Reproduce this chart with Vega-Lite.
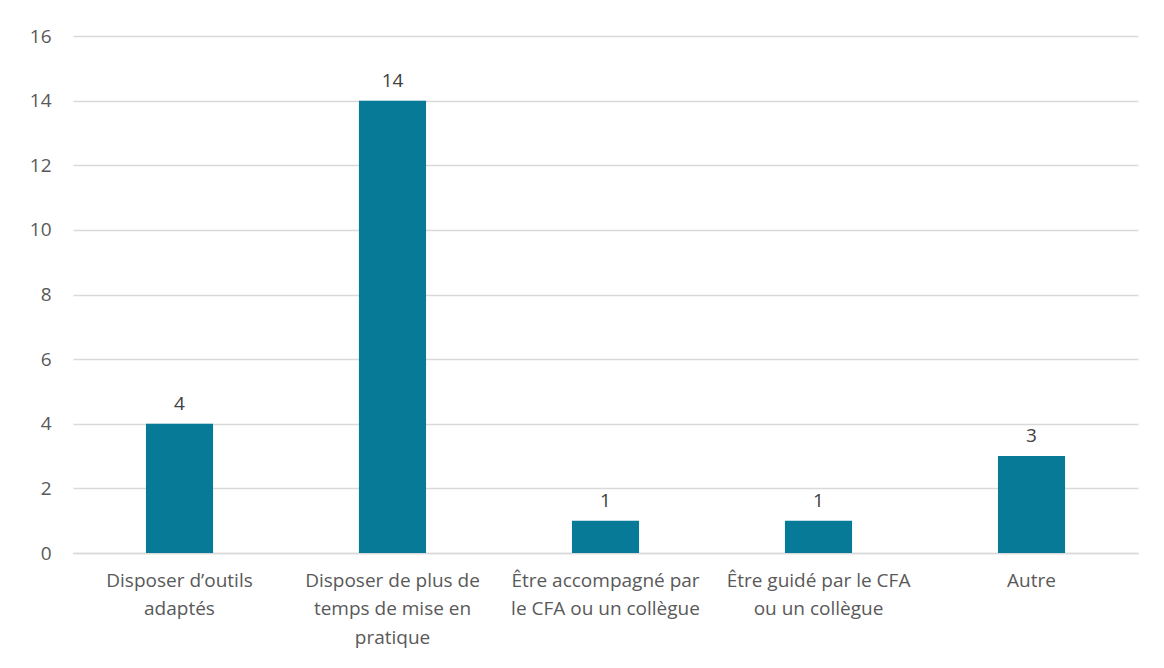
{
  "$schema": "https://vega.github.io/schema/vega-lite/v6.json",
  "width": 1065,
  "height": 517,
  "autosize": {"type": "none"},
  "padding": {"left": 73, "top": 36, "right": 26, "bottom": 115},
  "background": "white",
  "data": {
    "values": [
      {"categorie": "Disposer d’outils|adaptés", "valeur": 4},
      {"categorie": "Disposer de plus de|temps de mise en|pratique", "valeur": 14},
      {"categorie": "Être accompagné par|le CFA ou un collègue", "valeur": 1},
      {"categorie": "Être guidé par le CFA|ou un collègue", "valeur": 1},
      {"categorie": "Autre", "valeur": 3}
    ]
  },
  "config": {
    "view": {"stroke": null},
    "font": "Open Sans",
    "axis": {"labelFont": "Open Sans", "labelColor": "#595959", "labelFontSize": 19}
  },
  "encoding": {
    "x": {
      "field": "categorie",
      "type": "nominal",
      "sort": null,
      "scale": {"paddingInner": 0.685, "paddingOuter": 0.3425},
      "axis": {
        "title": null,
        "labelAngle": 0,
        "labelExpr": "split(datum.label, '|')",
        "labelLineHeight": 28.5,
        "labelPadding": 18,
        "ticks": false,
        "domain": true,
        "domainColor": "#D9D9D9",
        "domainWidth": 1.5,
        "labelBaseline": "top",
        "labelLimit": 300
      }
    },
    "y": {
      "field": "valeur",
      "type": "quantitative",
      "scale": {"domain": [0, 16]},
      "axis": {
        "title": null,
        "values": [0, 2, 4, 6, 8, 10, 12, 14, 16],
        "domain": false,
        "ticks": false,
        "labelPadding": 22,
        "gridColor": "#D9D9D9",
        "gridWidth": 1.5
      }
    }
  },
  "layer": [
    {"mark": {"type": "bar", "color": "#067A96"}},
    {
      "mark": {"type": "text", "baseline": "bottom", "dy": -10, "fontSize": 19, "color": "#404040", "font": "Open Sans"},
      "encoding": {"text": {"field": "valeur", "type": "quantitative"}}
    }
  ]
}
